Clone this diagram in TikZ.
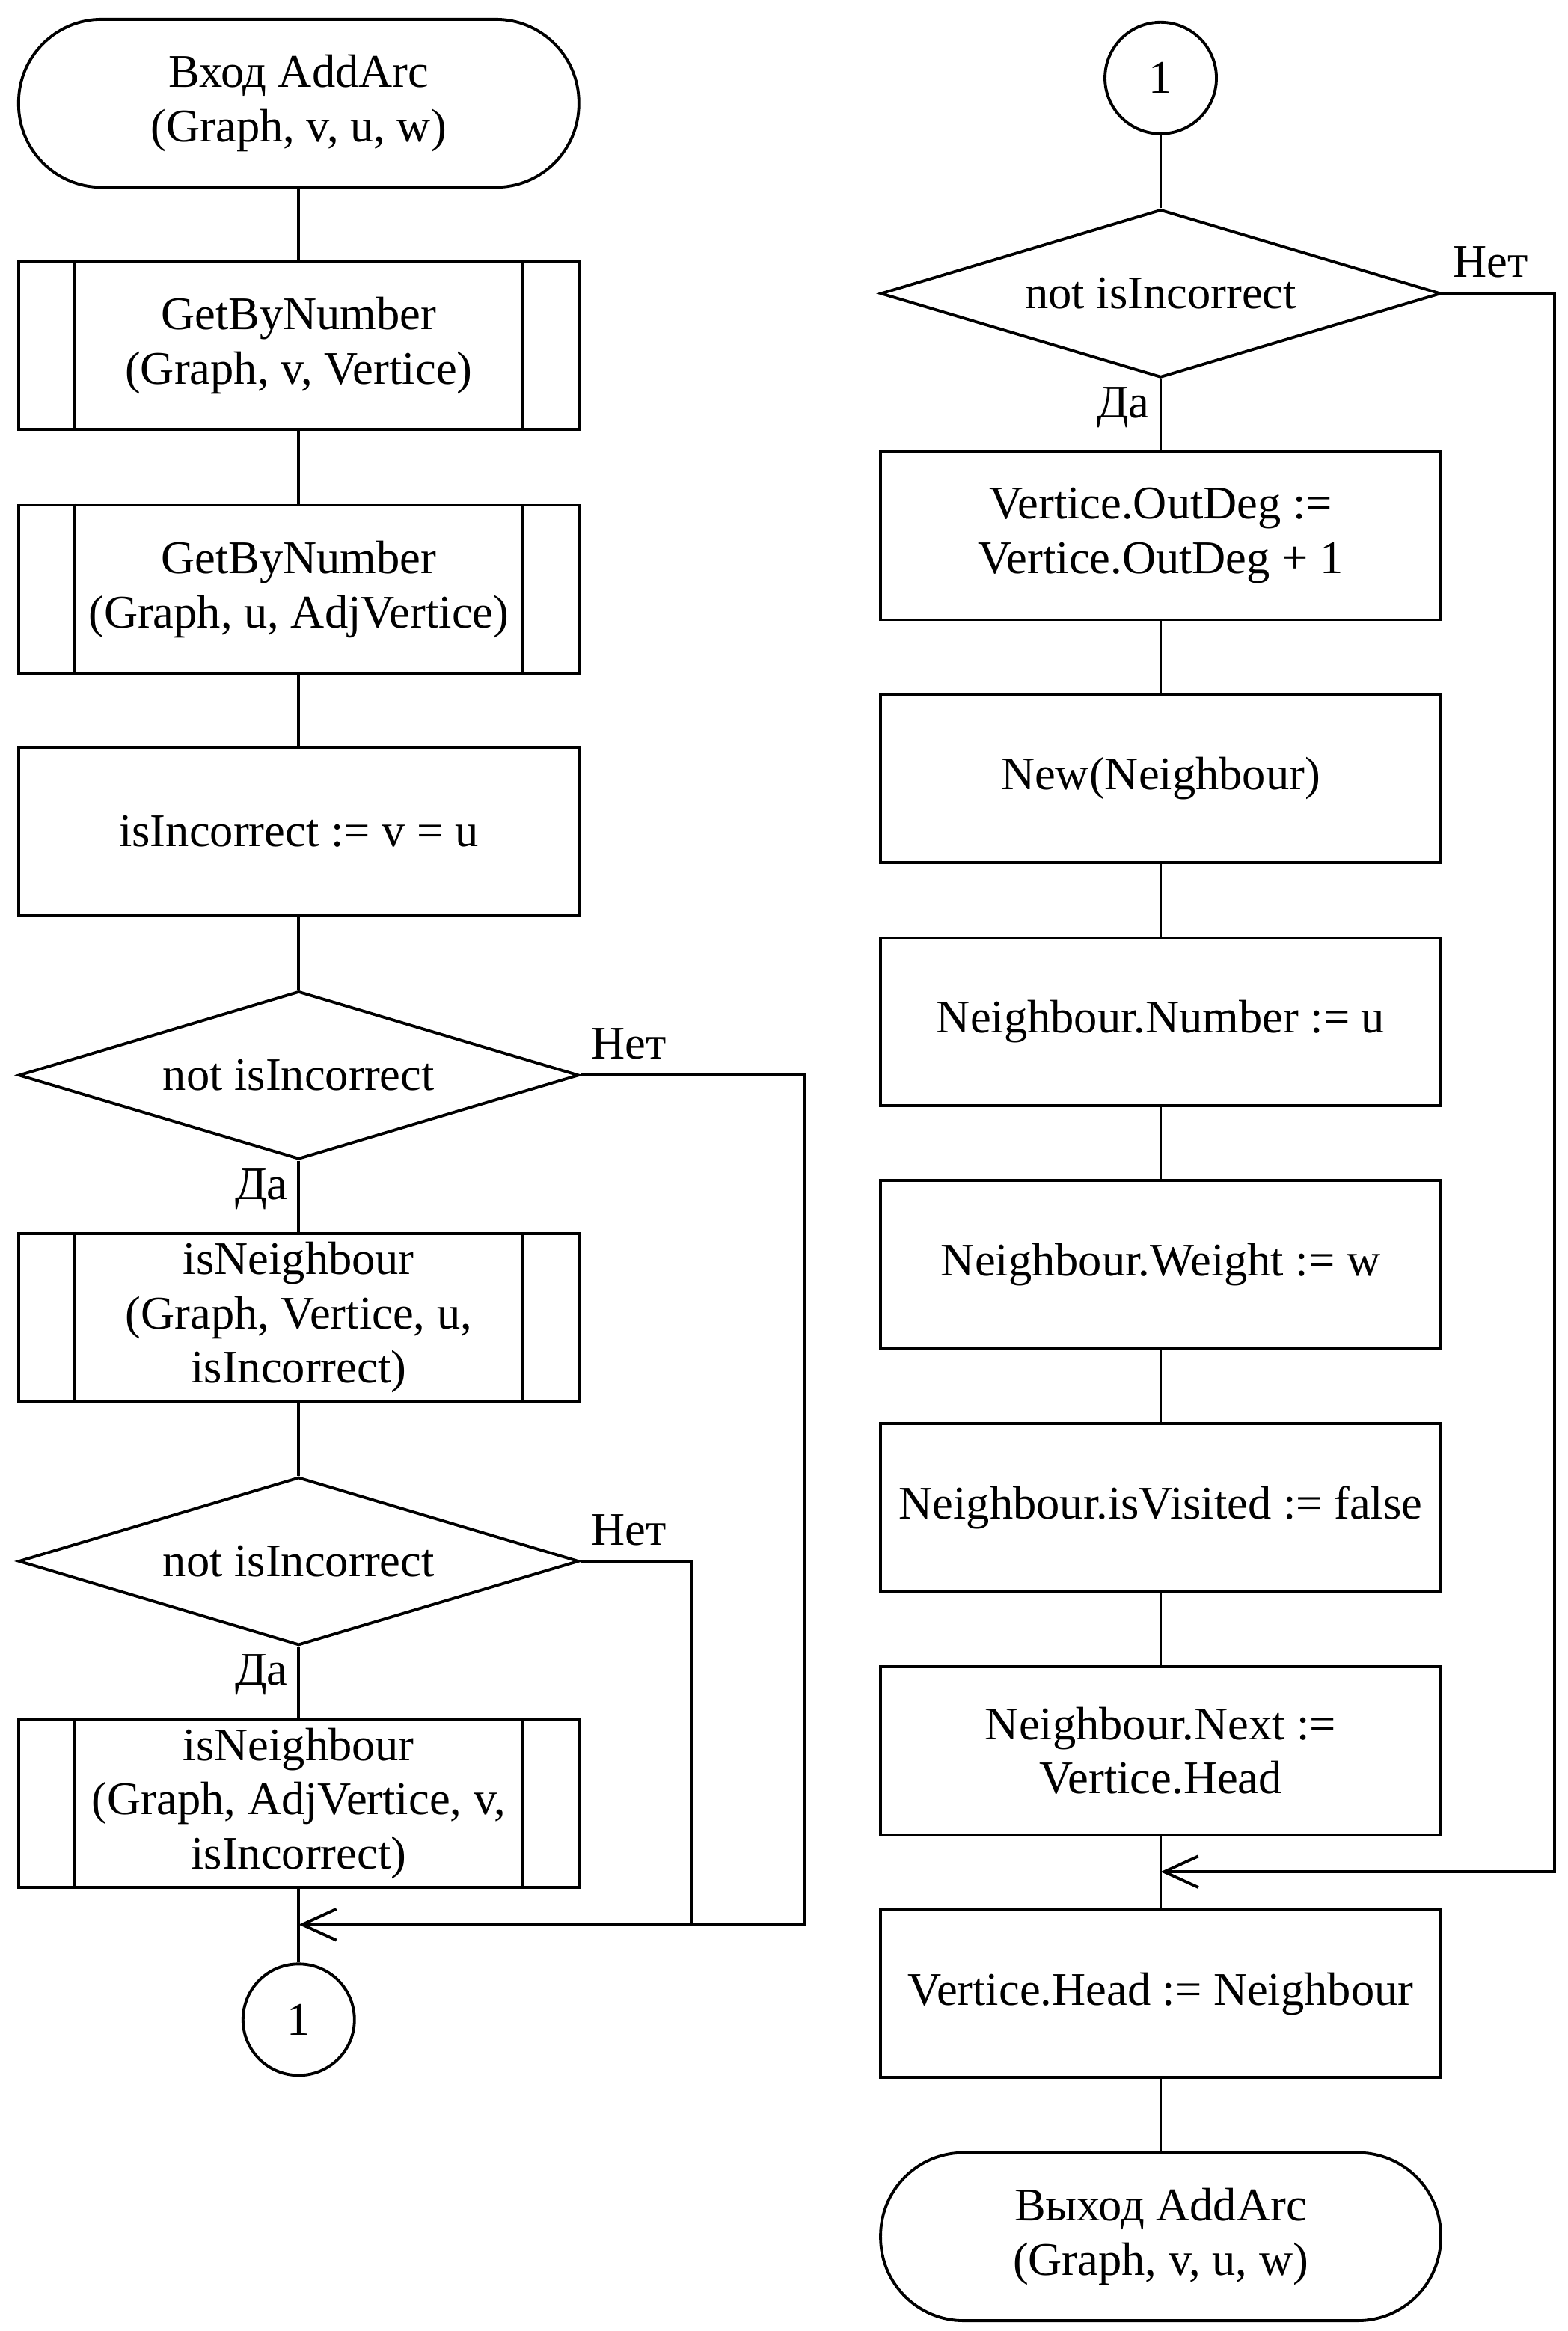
\documentclass[tikz,border=0pt]{standalone}
\usepackage{fontspec}
\setmainfont{Liberation Serif}
\usetikzlibrary{shapes.geometric,arrows.meta}

\newcommand{\blkfont}{\fontsize{17.9}{20.8}\selectfont}

\begin{document}
\begin{tikzpicture}[line width=1.1pt,
    blk/.style={draw,rectangle,minimum width=7.54cm,minimum height=2.26cm,
                font=\blkfont,align=center,inner sep=0pt},
    term/.style={blk,rounded corners=1.12cm},
    dec/.style={draw,diamond,shape aspect=3.34,minimum width=7.54cm,
                minimum height=2.26cm,inner sep=0pt,font=\blkfont},
    con/.style={draw,circle,minimum size=1.5cm,inner sep=0pt,font=\blkfont},
    lbl/.style={inner sep=0pt,font=\blkfont},
    arrow/.style={-{Straight Barb[length=4.6mm,width=4.2mm]}}]

    \useasboundingbox (0,0) rectangle (21.1,-31.37);

    % left column
    \node[term] (start) at (4.02,-1.39)  {Вход AddArc\\(Graph, v, u, w)};
    \node[blk]  (gv)    at (4.02,-4.65)  {GetByNumber\\(Graph, v, Vertice)};
    \node[blk]  (gu)    at (4.02,-7.93)  {GetByNumber\\(Graph, u, AdjVertice)};
    \node[blk]  (inc)   at (4.02,-11.19) {isIncorrect := v = u};
    \node[dec]  (d1)    at (4.02,-14.47) {not isIncorrect};
    \node[blk]  (nb1)   at (4.02,-17.73) {isNeighbour\\(Graph, Vertice, u,\\isIncorrect)};
    \node[dec]  (d2)    at (4.02,-21.01) {not isIncorrect};
    \node[blk]  (nb2)   at (4.02,-24.27) {isNeighbour\\(Graph, AdjVertice, v,\\isIncorrect)};
    \node[con]  (c1)    at (4.02,-27.18) {1};

    % right column
    \node[con]  (c2)   at (15.62,-1.05)  {1};
    \node[dec]  (d3)   at (15.62,-3.95)  {not isIncorrect};
    \node[blk]  (deg)  at (15.62,-7.21)  {Vertice.OutDeg :=\\Vertice.OutDeg + 1};
    \node[blk]  (new)  at (15.62,-10.48) {New(Neighbour)};
    \node[blk]  (num)  at (15.62,-13.75) {Neighbour.Number := u};
    \node[blk]  (wt)   at (15.62,-17.02) {Neighbour.Weight := w};
    \node[blk]  (vis)  at (15.62,-20.29) {Neighbour.isVisited := false};
    \node[blk]  (nxt)  at (15.62,-23.56) {Neighbour.Next :=\\Vertice.Head};
    \node[blk]  (head) at (15.62,-26.83) {Vertice.Head := Neighbour};
    \node[term] (stop) at (15.62,-30.10) {Выход AddArc\\(Graph, v, u, w)};

    % side bars of the subroutine blocks
    \foreach \n in {gv,gu,nb1,nb2} {
      \draw ([xshift=0.77cm]\n.north west) -- ([xshift=0.77cm]\n.south west);
      \draw ([xshift=-0.77cm]\n.north east) -- ([xshift=-0.77cm]\n.south east);
    }

    % branch labels
    \foreach \d in {d1,d2,d3} {
      \node[lbl,anchor=base west] at ([xshift=0.13cm,yshift=0.22cm]\d.east) {Нет};
      \node[lbl,anchor=base east] at ([xshift=-0.13cm,yshift=-0.52cm]\d.south) {Да};
    }

    \coordinate (r1) at (10.82,-25.90);
    \coordinate (r2) at (9.30,-25.90);
    \coordinate (j1) at (4.02,-25.90);
    \coordinate (r3) at (20.92,-25.19);
    \coordinate (j2) at (15.62,-25.19);

    \draw (start)--(gv); \draw (gv)--(gu); \draw (gu)--(inc); \draw (inc)--(d1);
    \draw (d1)--(nb1); \draw (nb1)--(d2); \draw (d2)--(nb2); \draw (nb2)--(c1);
    \draw[arrow] (d1.east) -| (r1) -- (j1);
    \draw (d2.east) -| (r2);

    \draw (c2)--(d3); \draw (d3)--(deg); \draw (deg)--(new); \draw (new)--(num);
    \draw (num)--(wt); \draw (wt)--(vis); \draw (vis)--(nxt); \draw (nxt)--(head);
    \draw (head)--(stop);
    \draw[arrow] (d3.east) -| (r3) -- (j2);
\end{tikzpicture}
\end{document}
